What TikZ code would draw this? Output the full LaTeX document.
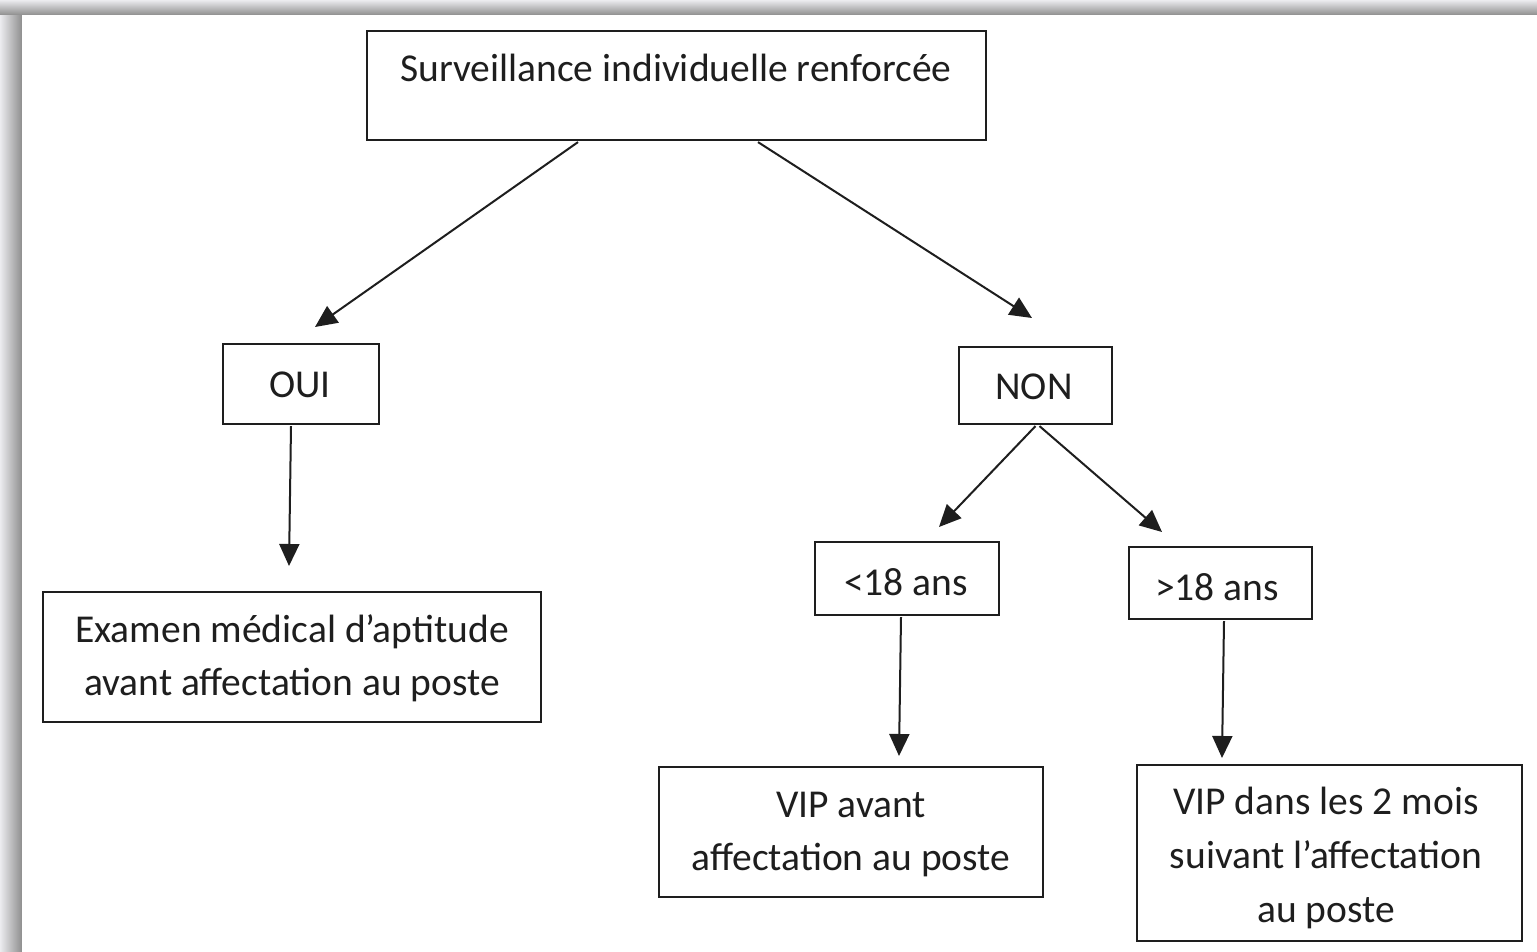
\documentclass[tikz,border=0pt]{standalone}
\usepackage{fontspec}
\setmainfont{Carlito}
\usetikzlibrary{arrows.meta}
\definecolor{ink}{HTML}{1E1E1E}
\definecolor{txtc}{HTML}{1E1E1E}
\definecolor{frameDark}{HTML}{8E8E8E}
\definecolor{frameLight}{HTML}{ECECEF}
\begin{document}
\begin{tikzpicture}[x=1pt,y=-1pt,
  box/.style={draw=ink, line width=2.2pt, inner sep=0pt, rectangle},
  lbl/.style={anchor=base, inner sep=0pt, text=txtc, font=\fontsize{39.5}{54}\selectfont},
  conn/.style={draw=ink, line width=2pt, -{Triangle[length=22pt,width=20pt]}}
]
\useasboundingbox (0,0) rectangle (1537,952);
\fill[white] (0,0) rectangle (1537,952);
% frame bands
\shade[left color=frameLight, right color=frameDark] (0,0) rectangle (22,952);
\shade[top color=frameLight, bottom color=frameDark] (0,0) rectangle (1537,15);
\fill[white] (22,15) rectangle (1537,952);

% boxes
\node[box, minimum width=619pt, minimum height=109pt] (top) at (676.5,85.5) {};
\node[box, minimum width=156pt, minimum height=80pt] (oui) at (301,384) {};
\node[box, minimum width=153pt, minimum height=77pt] (non) at (1035.5,385.5) {};
\node[box, minimum width=184pt, minimum height=73pt] (lt) at (907,578.5) {};
\node[box, minimum width=183pt, minimum height=72pt] (gt) at (1220.5,583) {};
\node[box, minimum width=498pt, minimum height=130pt] (exam) at (292,657) {};
\node[box, minimum width=384pt, minimum height=130pt] (vipa) at (851,832) {};
\node[box, minimum width=385pt, minimum height=176pt] (vipd) at (1329.5,853) {};

% texts
\node[lbl] (topt) at (676,82) {Surveillance individuelle renforcée};
\node[lbl] (ouit) at (300,397) {OUI};
\node[lbl] (nont) at (1034,399) {NON};
\node[lbl] (ltt) at (906,595) {<18 ans};
\node[lbl] (gtt) at (1217,600) {>18 ans};
\node[lbl] (exama) at (292,642) {Examen médical d’aptitude};
\node[lbl] (examb) at (292,695) {avant affectation au poste};
\node[lbl] (vipaa) at (851,817) {VIP avant};
\node[lbl] (vipab) at (851,870) {affectation au poste};
\node[lbl] (vipda) at (1326,814) {VIP dans les 2 mois};
\node[lbl] (vipdb) at (1326,868) {suivant l’affectation};
\node[lbl] (vipdc) at (1326,922) {au poste};

% arrow end points
\coordinate (eoui) at (315,327);
\coordinate (enon) at (1032,318);
\coordinate (eexam) at (289,566);
\coordinate (elt) at (939,527);
\coordinate (egt) at (1162,532);
\coordinate (evipa) at (899,756);
\coordinate (evipd) at (1222,758);

% connectors
\draw[conn] ([xshift=-98.5pt,yshift=-1pt]top.south) -- (eoui);
\draw[conn] ([xshift=81.5pt,yshift=-1pt]top.south) -- (enon);
\draw[conn] ([xshift=-10pt,yshift=-1pt]oui.south) -- (eexam);
\draw[conn] ([xshift=0pt,yshift=-1pt]non.south) -- (elt);
\draw[conn] ([xshift=4pt,yshift=-1pt]non.south) -- (egt);
\draw[conn] ([xshift=-6pt,yshift=-1pt]lt.south) -- (evipa);
\draw[conn] ([xshift=3.5pt,yshift=-1pt]gt.south) -- (evipd);
\end{tikzpicture}
\end{document}
